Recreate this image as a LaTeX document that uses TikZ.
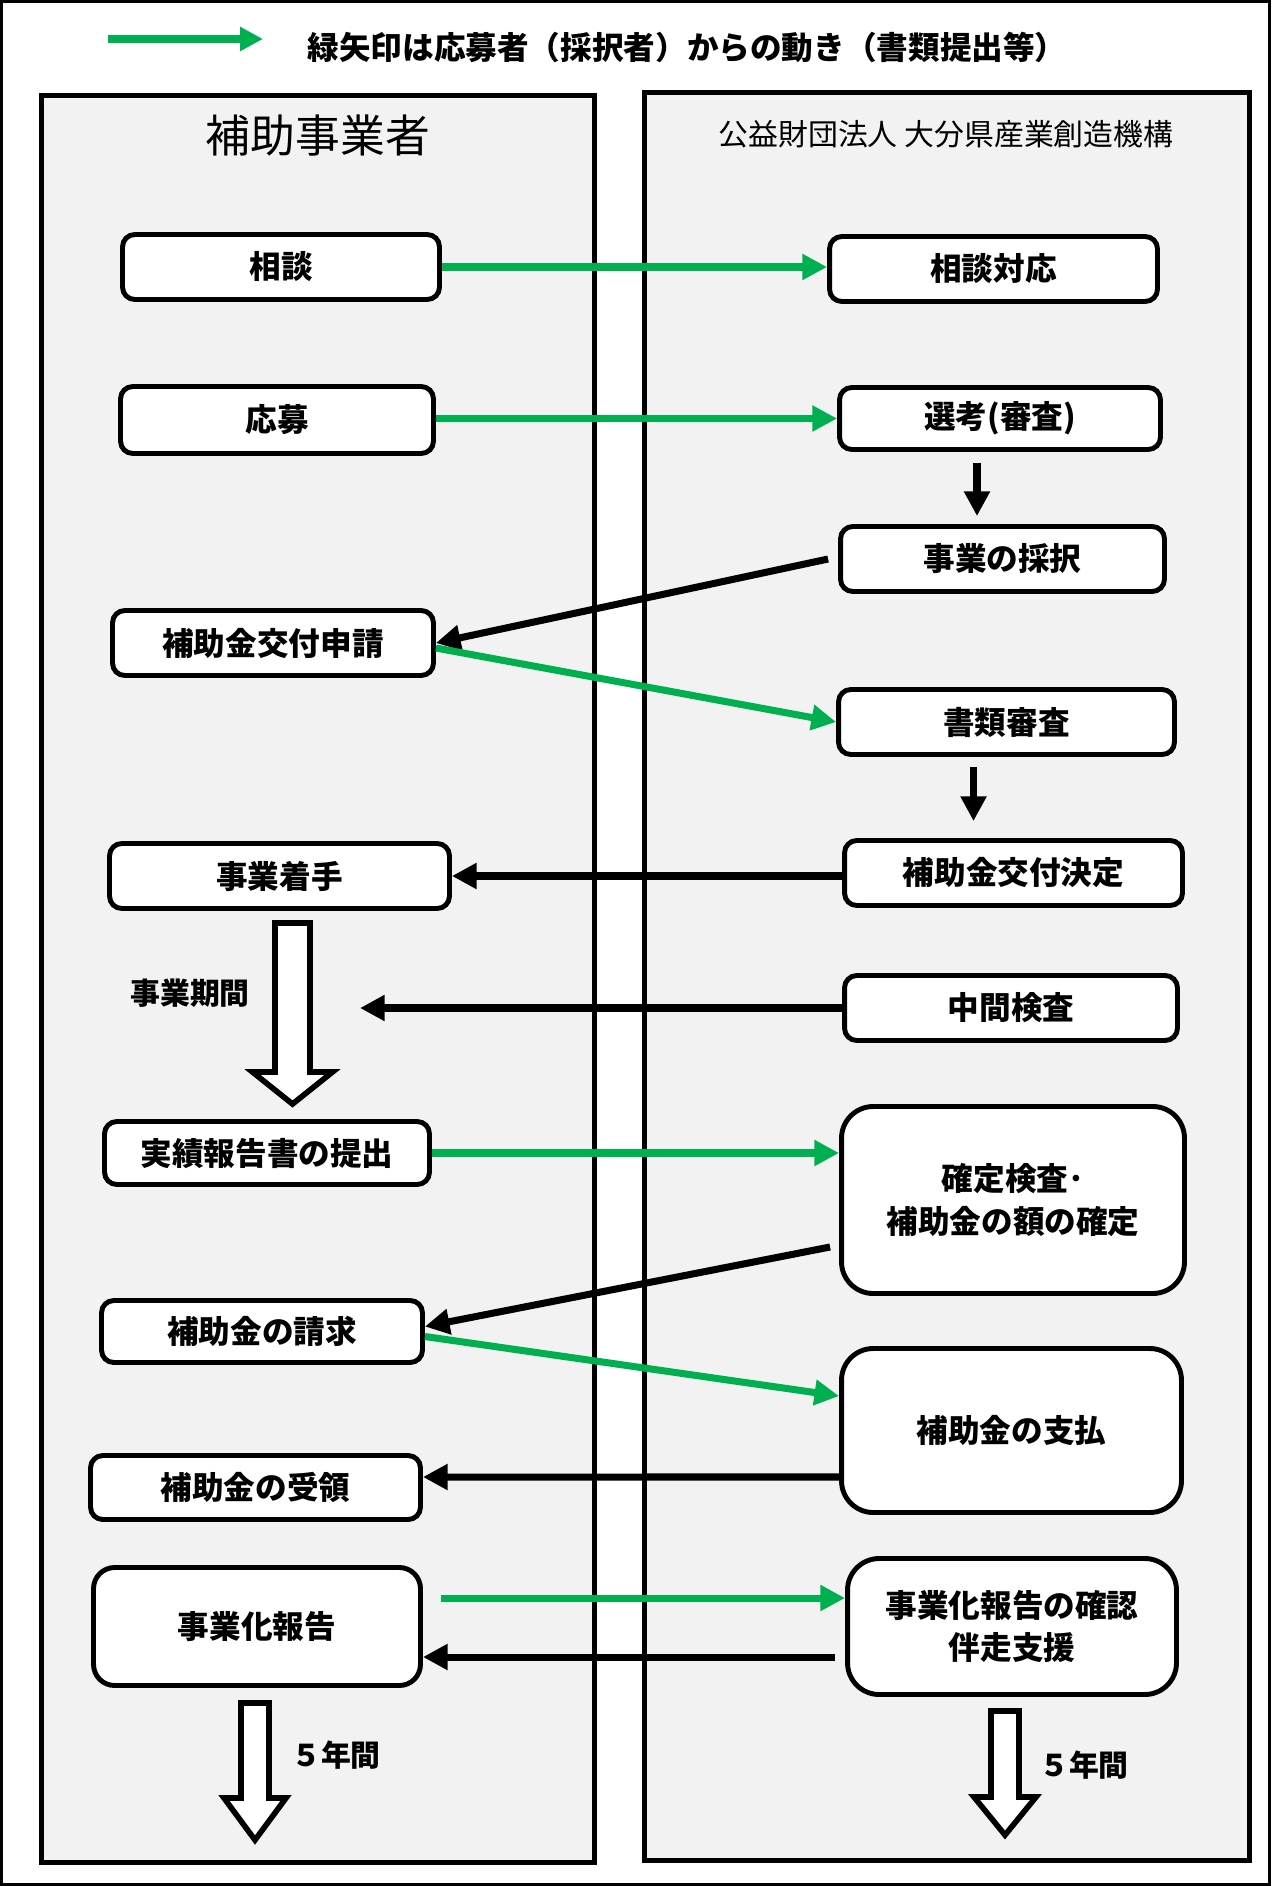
\documentclass[tikz,border=0pt]{standalone}
\usepackage{fontspec}
\setmainfont{Noto Sans CJK JP}
\usetikzlibrary{arrows.meta}
\definecolor{appgreen}{RGB}{0,176,80}
\definecolor{panelgray}{RGB}{242,242,242}
\tikzset{
  box/.style={draw, line width=2.8pt, rounded corners=7pt, fill=white, inner sep=0pt, align=center, font=\bfseries\fontsize{18}{24}\selectfont},
  bigbox/.style={box, rounded corners=18pt},
  flow/.style={line width=4pt, -{Triangle[length=14pt,width=14pt]}},
  apply/.style={flow, appgreen},
  hollow/.style={draw, line width=3.2pt, fill=white, line join=miter},
  panel/.style={draw, line width=2.8pt, fill=panelgray},
  note/.style={font=\bfseries\fontsize{17}{19}\selectfont},
}
\begin{document}
\begin{tikzpicture}[x=0.02cm, y=-0.02cm]
\useasboundingbox (0,0) rectangle (1271,1886);
\draw[line width=1.7pt] (1.5,1.5) rectangle (1269.5,1884.5);
% legend
\coordinate (leg0) at (108,39);
\coordinate (leg1) at (263,39);
\draw[appgreen, line width=4.5pt, -{Triangle[length=13pt,width=13pt]}] (leg0) -- (leg1);
\node[font=\bfseries\fontsize{18}{22}\selectfont] (legtxt) at (687,47) {緑矢印は応募者（採択者）からの動き（書類提出等）};
% lanes
\draw[panel] (41.5,95.5) rectangle (594.5,1862.5);
\draw[panel] (644.5,92.5) rectangle (1249.5,1860.5);
\node[font=\fontsize{25.5}{28}\selectfont] (ltitle) at (318,136) {補助事業者};
\node[font=\fontsize{17}{20}\selectfont] (rtitle) at (946,134) {公益財団法人 大分県産業創造機構};
% applicant side
\node[box, minimum width=6.34cm, minimum height=1.30cm] (soudan) at (281,267) {相談};
\node[box, minimum width=6.26cm, minimum height=1.34cm] (oubo) at (277,420) {応募};
\node[box, minimum width=6.42cm, minimum height=1.30cm] (shinsei) at (273,643) {補助金交付申請};
\node[box, minimum width=6.80cm, minimum height=1.30cm] (chakushu) at (279.5,876) {事業着手};
\node[box, minimum width=6.50cm, minimum height=1.26cm] (jisseki) at (267,1153) {実績報告書の提出};
\node[box, minimum width=6.42cm, minimum height=1.24cm] (seikyu) at (262,1331.5) {補助金の請求};
\node[box, minimum width=6.60cm, minimum height=1.28cm] (juryo) at (255.5,1487.5) {補助金の受領};
\node[bigbox, rounded corners=12pt, minimum width=6.54cm, minimum height=2.36cm] (jigyoka) at (257,1626.5) {事業化報告};
% organisation side
\node[box, minimum width=6.56cm, minimum height=1.30cm] (taio) at (993.5,269) {相談対応};
\node[box, minimum width=6.42cm, minimum height=1.24cm] (senko) at (1000,418.5) {選考(審査)};
\node[box, minimum width=6.48cm, minimum height=1.30cm] (saitaku) at (1002.5,559) {事業の採択};
\node[box, minimum width=6.72cm, minimum height=1.30cm] (shorui) at (1006.5,722) {書類審査};
\node[box, minimum width=6.76cm, minimum height=1.30cm] (kettei) at (1013.5,873) {補助金交付決定};
\node[box, minimum width=6.66cm, minimum height=1.30cm] (chukan) at (1011,1008) {中間検査};
\node[bigbox, minimum width=6.86cm, minimum height=3.74cm] (kakutei) at (1013,1200) {確定検査･\\補助金の額の確定};
\node[bigbox, minimum width=6.80cm, minimum height=3.28cm] (shiharai) at (1011.5,1430.5) {補助金の支払};
\node[bigbox, minimum width=6.58cm, minimum height=2.72cm] (kakunin) at (1012,1626.5) {事業化報告の確認\\伴走支援};
% flows
\draw[apply] (soudan.east) -- (soudan.east -| taio.west);
\draw[apply] (senko.west -| oubo.east) -- (senko.west);
\draw[flow, line width=4.5pt, shorten <=0.22cm, shorten >=0.16cm] ([xshift=-0.46cm]senko.south) -- ([xshift=-0.46cm]senko.south |- saitaku.north);
\draw[flow] ([xshift=-0.2cm]saitaku.west) -- (shinsei.east);
\draw[apply] ([yshift=-0.1cm]shinsei.east) -- (shorui.west);
\draw[flow, line width=4.5pt, shorten <=0.2cm, shorten >=0.34cm] ([xshift=-0.66cm]shorui.south) -- ([xshift=-0.66cm]shorui.south |- kettei.north);
\draw[flow] (kettei.west |- chakushu.east) -- (chakushu.east);
\coordinate (kanchk) at (360,1008);
\draw[flow] (chukan.west) -- (kanchk);
\draw[apply] (jisseki.east) -- (jisseki.east -| kakutei.west);
\draw[flow] ([shift={(-0.18cm,-0.94cm)}]kakutei.west) -- ([yshift=0.1cm]seikyu.east);
\draw[apply] ([yshift=-0.1cm]seikyu.east) -- ([yshift=0.69cm]shiharai.west);
\draw[flow] ([yshift=-0.93cm]shiharai.west) -- ([yshift=0.21cm]juryo.east);
\draw[apply] ([shift={(0.36cm,0.57cm)}]jigyoka.east) -- ([yshift=0.57cm]kakunin.west);
\draw[flow] ([shift={(-0.2cm,-0.61cm)}]kakunin.west) -- ([yshift=-0.61cm]jigyoka.east);
% period arrows
\draw[hollow] (275,923) -- (310,923) -- (310,1072) -- (332.5,1072) -- (292.5,1104) -- (252.5,1072) -- (275,1072) -- cycle;
\node[note] (kikan) at (190,993) {事業期間};
\draw[hollow] (241,1703) -- (269,1703) -- (269,1798) -- (286,1798) -- (255,1840) -- (224,1798) -- (241,1798) -- cycle;
\node[note] (nen1) at (336,1755) {５年間};
\draw[hollow] (991,1711) -- (1019,1711) -- (1019,1797) -- (1036,1797) -- (1005,1835) -- (974,1797) -- (991,1797) -- cycle;
\node[note] (nen2) at (1084,1765) {５年間};
\end{tikzpicture}
\end{document}
